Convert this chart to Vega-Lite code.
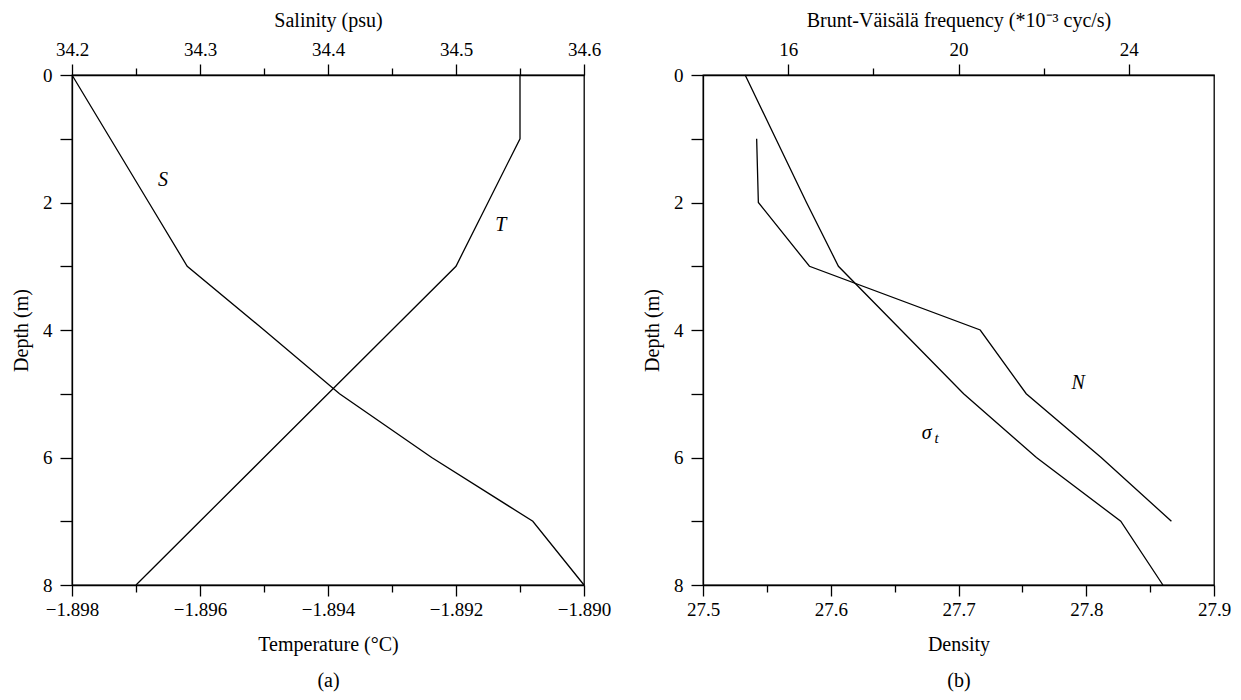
{
  "$schema": "https://vega.github.io/schema/vega-lite/v6.json",
  "background": "white",
  "padding": {"left": 10, "top": 9, "right": 5, "bottom": 5},
  "spacing": 29,
  "config": {
    "font": "Liberation Serif",
    "view": {"stroke": "black", "strokeWidth": 1.3},
    "axis": {
      "labelFont": "Liberation Serif", "labelFontSize": 19, "labelColor": "black",
      "titleFont": "Liberation Serif", "titleFontSize": 20, "titleFontWeight": "normal", "titleColor": "black",
      "domainColor": "black", "domainWidth": 1.3, "tickColor": "black", "tickWidth": 1.3,
      "grid": false, "labelFlush": false, "labelOverlap": false, "labelBound": false
    },
    "line": {"color": "black", "strokeWidth": 1.3},
    "text": {"font": "Liberation Serif", "fontStyle": "italic", "fontSize": 20, "color": "black"}
  },
  "datasets": {
    "salinity": [
      {"depth": 0, "value": 34.2}, {"depth": 1, "value": 34.23}, {"depth": 2, "value": 34.26},
      {"depth": 3, "value": 34.29}, {"depth": 4, "value": 34.35}, {"depth": 5, "value": 34.409},
      {"depth": 6, "value": 34.481}, {"depth": 7, "value": 34.56}, {"depth": 8, "value": 34.6}
    ],
    "temperature": [
      {"depth": 0, "value": -1.891}, {"depth": 1, "value": -1.891}, {"depth": 2, "value": -1.8915},
      {"depth": 3, "value": -1.892}, {"depth": 4, "value": -1.893}, {"depth": 5, "value": -1.894},
      {"depth": 6, "value": -1.895}, {"depth": 7, "value": -1.896}, {"depth": 8, "value": -1.897}
    ],
    "density": [
      {"depth": 0, "value": 27.533}, {"depth": 1, "value": 27.557}, {"depth": 2, "value": 27.581},
      {"depth": 3, "value": 27.606}, {"depth": 4, "value": 27.655}, {"depth": 5, "value": 27.704},
      {"depth": 6, "value": 27.761}, {"depth": 7, "value": 27.827}, {"depth": 8, "value": 27.86}
    ],
    "bvfreq": [
      {"depth": 1, "value": 15.26}, {"depth": 2, "value": 15.3}, {"depth": 3, "value": 16.5},
      {"depth": 4, "value": 20.51}, {"depth": 5, "value": 21.59}, {"depth": 6, "value": 23.35},
      {"depth": 7, "value": 25.0}
    ]
  },
  "hconcat": [
    {
      "width": 512, "height": 510,
      "resolve": {"scale": {"x": "independent"}},
      "layer": [
        {
          "data": {"name": "salinity"},
          "mark": {"type": "line"},
          "encoding": {
            "x": {"field": "value", "type": "quantitative",
              "scale": {"domain": [34.2, 34.6], "nice": false, "zero": false},
              "axis": {"orient": "top", "title": "Salinity (psu)", "values": [34.2, 34.3, 34.4, 34.5, 34.6], "format": ".1f",
                "tickSize": 11, "labelPadding": 5, "titlePadding": 10}},
            "y": {"field": "depth", "type": "quantitative",
              "scale": {"domain": [0, 8], "reverse": true, "nice": false, "zero": false},
              "axis": {"title": "Depth (m)", "values": [0, 1, 2, 3, 4, 5, 6, 7, 8], "format": "d", "labelExpr": "datum.value % 2 === 0 ? format(datum.value, 'd') : ''",
                "tickSize": 12, "labelPadding": 8, "titlePadding": 11}},
            "order": {"field": "depth", "type": "quantitative"}
          }
        },
        {
          "data": {"name": "salinity"},
          "mark": {"type": "line", "opacity": 0},
          "encoding": {
            "x": {"field": "value", "type": "quantitative",
              "scale": {"domain": [34.2, 34.6], "nice": false, "zero": false},
              "axis": {"orient": "top", "title": null, "values": [34.25, 34.35, 34.45, 34.55], "labels": false, "domain": false, "tickSize": 7}},
            "y": {"field": "depth", "type": "quantitative",
              "scale": {"domain": [0, 8], "reverse": true, "nice": false, "zero": false}},
            "order": {"field": "depth", "type": "quantitative"}
          }
        },
        {
          "data": {"name": "temperature"},
          "mark": {"type": "line"},
          "encoding": {
            "x": {"field": "value", "type": "quantitative",
              "scale": {"domain": [-1.898, -1.89], "nice": false, "zero": false},
              "axis": {"orient": "bottom", "title": ["Temperature (°C)", "(a)"], "values": [-1.898, -1.896, -1.894, -1.892, -1.89], "format": ".3f",
                "tickSize": 11, "labelPadding": 4, "titlePadding": 15, "titleLineHeight": 36}},
            "y": {"field": "depth", "type": "quantitative",
              "scale": {"domain": [0, 8], "reverse": true, "nice": false, "zero": false}},
            "order": {"field": "depth", "type": "quantitative"}
          }
        },
        {
          "data": {"name": "temperature"},
          "mark": {"type": "line", "opacity": 0},
          "encoding": {
            "x": {"field": "value", "type": "quantitative",
              "scale": {"domain": [-1.898, -1.89], "nice": false, "zero": false},
              "axis": {"orient": "bottom", "title": null, "values": [-1.897, -1.895, -1.893, -1.891], "labels": false, "domain": false, "tickSize": 7}},
            "y": {"field": "depth", "type": "quantitative",
              "scale": {"domain": [0, 8], "reverse": true, "nice": false, "zero": false}},
            "order": {"field": "depth", "type": "quantitative"}
          }
        },
        {
          "data": {"values": [{"label": "S", "depth": 1.65, "value": 34.271}]},
          "mark": {"type": "text"},
          "encoding": {
            "x": {"field": "value", "type": "quantitative", "axis": null, "scale": {"domain": [34.2, 34.6], "nice": false, "zero": false}},
            "y": {"field": "depth", "type": "quantitative", "scale": {"domain": [0, 8], "reverse": true, "nice": false, "zero": false}},
            "text": {"field": "label"}
          }
        },
        {
          "data": {"values": [{"label": "T", "depth": 2.35, "value": -1.8913}]},
          "mark": {"type": "text"},
          "encoding": {
            "x": {"field": "value", "type": "quantitative", "axis": null, "scale": {"domain": [-1.898, -1.89], "nice": false, "zero": false}},
            "y": {"field": "depth", "type": "quantitative", "scale": {"domain": [0, 8], "reverse": true, "nice": false, "zero": false}},
            "text": {"field": "label"}
          }
        }
      ]
    },
    {
      "width": 511, "height": 510,
      "resolve": {"scale": {"x": "independent"}},
      "layer": [
        {
          "data": {"name": "bvfreq"},
          "mark": {"type": "line"},
          "encoding": {
            "x": {"field": "value", "type": "quantitative",
              "scale": {"domain": [14, 26], "nice": false, "zero": false},
              "axis": {"orient": "top", "title": "Brunt-Väisälä frequency (*10⁻³ cyc/s)", "values": [16, 20, 24],
                "tickSize": 11, "labelPadding": 5, "titlePadding": 10}},
            "y": {"field": "depth", "type": "quantitative",
              "scale": {"domain": [0, 8], "reverse": true, "nice": false, "zero": false},
              "axis": {"title": "Depth (m)", "values": [0, 1, 2, 3, 4, 5, 6, 7, 8], "format": "d", "labelExpr": "datum.value % 2 === 0 ? format(datum.value, 'd') : ''",
                "tickSize": 12, "labelPadding": 8, "titlePadding": 11}},
            "order": {"field": "depth", "type": "quantitative"}
          }
        },
        {
          "data": {"name": "bvfreq"},
          "mark": {"type": "line", "opacity": 0},
          "encoding": {
            "x": {"field": "value", "type": "quantitative",
              "scale": {"domain": [14, 26], "nice": false, "zero": false},
              "axis": {"orient": "top", "title": null, "values": [18, 22], "labels": false, "domain": false, "tickSize": 7}},
            "y": {"field": "depth", "type": "quantitative",
              "scale": {"domain": [0, 8], "reverse": true, "nice": false, "zero": false}},
            "order": {"field": "depth", "type": "quantitative"}
          }
        },
        {
          "data": {"name": "density"},
          "mark": {"type": "line"},
          "encoding": {
            "x": {"field": "value", "type": "quantitative",
              "scale": {"domain": [27.5, 27.9], "nice": false, "zero": false},
              "axis": {"orient": "bottom", "title": ["Density", "(b)"], "values": [27.5, 27.6, 27.7, 27.8, 27.9], "format": ".1f",
                "tickSize": 11, "labelPadding": 4, "titlePadding": 15, "titleLineHeight": 36}},
            "y": {"field": "depth", "type": "quantitative",
              "scale": {"domain": [0, 8], "reverse": true, "nice": false, "zero": false}},
            "order": {"field": "depth", "type": "quantitative"}
          }
        },
        {
          "data": {"name": "density"},
          "mark": {"type": "line", "opacity": 0},
          "encoding": {
            "x": {"field": "value", "type": "quantitative",
              "scale": {"domain": [27.5, 27.9], "nice": false, "zero": false},
              "axis": {"orient": "bottom", "title": null, "values": [27.55, 27.65, 27.75, 27.85], "labels": false, "domain": false, "tickSize": 7}},
            "y": {"field": "depth", "type": "quantitative",
              "scale": {"domain": [0, 8], "reverse": true, "nice": false, "zero": false}},
            "order": {"field": "depth", "type": "quantitative"}
          }
        },
        {
          "data": {"values": [{"label": "N", "depth": 4.83, "value": 22.81}]},
          "mark": {"type": "text"},
          "encoding": {
            "x": {"field": "value", "type": "quantitative", "axis": null, "scale": {"domain": [14, 26], "nice": false, "zero": false}},
            "y": {"field": "depth", "type": "quantitative", "scale": {"domain": [0, 8], "reverse": true, "nice": false, "zero": false}},
            "text": {"field": "label"}
          }
        },
        {
          "data": {"values": [{"label": "σ", "depth": 5.61, "value": 27.675}]},
          "mark": {"type": "text"},
          "encoding": {
            "x": {"field": "value", "type": "quantitative", "axis": null, "scale": {"domain": [27.5, 27.9], "nice": false, "zero": false}},
            "y": {"field": "depth", "type": "quantitative", "scale": {"domain": [0, 8], "reverse": true, "nice": false, "zero": false}},
            "text": {"field": "label"}
          }
        },
        {
          "data": {"values": [{"label": "t", "depth": 5.61, "value": 27.675}]},
          "mark": {"type": "text", "fontSize": 15, "dx": 10, "dy": 5},
          "encoding": {
            "x": {"field": "value", "type": "quantitative", "axis": null, "scale": {"domain": [27.5, 27.9], "nice": false, "zero": false}},
            "y": {"field": "depth", "type": "quantitative", "scale": {"domain": [0, 8], "reverse": true, "nice": false, "zero": false}},
            "text": {"field": "label"}
          }
        }
      ]
    }
  ]
}
